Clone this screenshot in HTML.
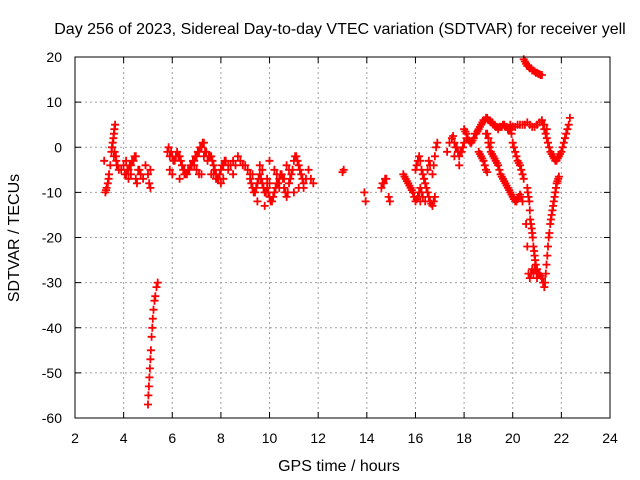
<!DOCTYPE html>
<html><head><meta charset="utf-8"><style>
body{margin:0;background:#fff}
svg{display:block;font-family:"Liberation Sans",sans-serif}
</style></head><body>
<svg id="chart" width="640" height="480" viewBox="0 0 640 480" xmlns="http://www.w3.org/2000/svg">
<rect width="640" height="480" fill="#fff"/>
<text x="340" y="34" font-size="16" text-anchor="middle">Day 256 of 2023, Sidereal Day-to-day VTEC variation (SDTVAR) for receiver yell</text>
<g id="grid"></g><g id="ticks"></g><g id="marks"></g>
<rect x="75" y="57" width="535" height="361" fill="none" stroke="#000" stroke-width="1"/>
<text x="339" y="471" font-size="16" text-anchor="middle">GPS time / hours</text>
<text transform="translate(19,238) rotate(-90)" font-size="16" text-anchor="middle">SDTVAR / TECUs</text>
</svg>
<script>
const xTicks=[2,4,6,8,10,12,14,16,18,20,22,24];
const yTicks=[20,10,0,-10,-20,-30,-40,-50,-60];
const times=[
3.2,3.25,3.28,3.3,3.35,3.38,3.4,3.45,3.5,3.52,3.55,3.58,3.6,3.62,3.65,3.6,3.63,3.7,3.75,3.8,3.68,3.72,
3.9,4.0,4.05,4.1,4.15,4.2,4.25,4.3,4.35,4.4,4.45,4.5,4.5,4.6,4.3,4.7,4.8,4.9,5.0,5.05,5.1,4.2,4.1,4.55,4.65,5.1,
5.0,5.02,5.04,5.06,5.08,5.1,5.12,5.15,5.18,5.2,5.23,5.27,5.3,5.35,5.4,
5.8,5.85,5.9,5.95,6.0,6.05,6.1,6.15,6.2,6.25,6.3,6.35,6.4,6.45,6.5,6.55,6.6,6.65,6.7,6.75,6.8,6.85,6.9,6.95,7.0,7.05,7.1,7.15,7.2,7.25,7.3,5.9,6.0,6.3,6.5,7.3,7.35,7.4,7.45,7.5,7.55,7.6,7.65,7.7,7.75,7.8,7.85,7.9,7.95,8.0,8.05,8.1,8.15,8.2,8.3,8.4,8.5,8.6,8.7,8.8,8.9,9.0,9.1,9.2,7.6,7.7,7.8,7.9,8.0,8.1,8.3,8.5,7.2,7.0,6.9,7.1,
9.2,9.25,9.3,9.35,9.4,9.45,9.5,9.55,9.6,9.65,9.7,9.75,9.8,9.85,9.9,9.95,10.0,10.05,10.1,10.15,10.2,10.25,10.3,10.35,10.4,10.45,10.5,10.55,10.6,10.65,10.7,10.75,10.8,10.85,10.9,10.95,11.0,11.05,11.1,11.15,11.2,11.25,11.3,11.35,11.4,11.5,11.6,11.7,11.8,9.5,9.8,10.0,10.2,10.4,10.6,10.8,11.0,11.2,11.4,9.3,9.6,10.0,9.7,9.9,10.3,10.7,
13.0,13.05,13.9,13.95,14.6,14.65,14.7,14.75,14.8,14.9,14.95,
15.5,15.55,15.6,15.65,15.7,15.75,15.8,15.85,15.9,15.95,16.0,16.05,16.1,16.15,16.2,16.0,16.05,16.1,16.15,16.2,16.25,16.3,16.35,16.4,16.45,16.5,16.55,16.6,16.65,16.7,16.75,16.8,16.7,16.75,16.8,16.85,16.9,16.6,16.55,16.5,16.4,16.3,16.2,16.25,
17.3,17.4,17.5,17.55,17.6,17.65,17.7,17.75,17.8,17.85,17.9,17.95,18.0,18.1,17.6,17.8,
18.0,18.05,18.1,18.15,18.2,18.25,18.3,18.35,18.4,18.45,18.5,18.55,18.6,18.65,18.7,18.75,18.8,18.85,18.9,18.95,19.0,19.05,19.1,19.15,19.2,19.25,19.3,19.35,19.4,19.45,19.5,19.55,19.6,19.65,19.7,19.75,19.8,19.85,19.9,19.95,20.0,20.1,20.2,20.3,20.4,20.5,20.6,20.7,20.8,20.9,21.0,21.1,21.2,21.3,21.4,18.9,19.0,19.1,19.2,
18.6,18.65,18.7,18.75,18.8,18.85,18.9,18.95,
18.95,19.0,19.05,19.1,19.15,19.2,19.25,19.3,19.35,19.4,19.45,19.5,19.55,19.6,19.65,19.7,19.75,19.8,19.85,19.9,19.95,20.0,20.05,20.1,20.15,20.2,20.25,20.3,20.35,20.4,
19.9,19.95,20.0,20.05,20.1,20.15,20.2,20.25,20.3,20.35,20.4,20.45,
21.25,21.3,21.35,21.4,21.45,21.5,21.55,21.6,21.65,21.7,21.75,21.8,21.85,21.9,21.95,22.0,22.05,22.1,22.15,22.2,22.25,22.3,22.35,
20.45,20.5,20.55,20.6,20.65,20.7,20.75,20.8,20.85,20.9,20.95,21.0,21.05,21.1,21.15,21.2,
20.6,20.62,20.65,20.68,20.7,20.72,20.75,20.78,20.8,20.82,20.85,20.88,20.9,20.92,20.95,20.98,21.0,20.55,20.6,
20.65,20.7,20.75,20.8,20.85,20.9,20.95,21.0,21.05,21.1,21.15,21.2,21.25,
21.3,21.33,21.36,21.39,21.42,21.45,21.48,21.51,21.54,21.57,21.6,21.63,21.66,21.69,21.72,21.75,21.78,21.81,21.84,21.87,21.9
];
const vtec=[
-3,-10,-9.5,-9,-8,-7,-6,-4,-1,0,1,2,3,4,5,-2,-1,-3,-4,-5,-2,-4,
-5,-4,-6,-6,-5,-5,-4,-4,-3,-3,-2,-2,-7,-5,-6,-6,-7,-4,-6,-8,-9,-7,-3,-8,-5,-5,
-57,-55,-53,-51,-49,-47,-45,-42,-40,-38,-36,-34,-33,-31,-30,
-1,0,-2,-1,-2,-3,-3,-2,-1,-2,-2,-3,-4,-5,-5,-6,-6,-5,-5,-4,-4,-3,-3,-2,-2,-1,-1,0,0,1,1,-5,-6,-7,-6,-2,-1,-1,-3,-2,-2,-2,-3,-4,-5,-6,-7,-7,-6,-5,-4,-4,-3,-3,-4,-4,-3,-4,-2,-3,-4,-4,-5,-6,-6,-6,-7,-7,-8,-7,-5,-6,-6,-5,-4,-6,
-7,-8,-9,-10,-10,-9,-8,-7,-6,-7,-8,-9,-10,-10,-9,-10,-11,-12,-12,-11,-10,-9,-8,-8,-7,-6,-6,-7,-9,-10,-11,-10,-8,-7,-6,-5,-3,-2,-2,-3,-4,-5,-6,-7,-8,-7,-5,-7,-8,-12,-13,-8,-5,-9,-7,-5,-10,-9,-9,-6,-4,-3,-5,-7,-6,-4,
-5.5,-5,-10,-12,-9,-8,-8,-7,-7,-11,-12,
-6,-6.5,-7,-7.5,-8,-8.5,-9,-9.5,-10,-11,-12,-11.5,-11,-10,-9,-5,-4,-3,-2,-3,-5,-6,-7,-8,-9,-10,-11,-12,-12.5,-13,-12,-11,-6,-4,-2,0,1,-4,-3,-5,-12,-11,-12,-10,
-1,1,2,2.5,1,0,0,-1,-2,-1,-1,0,1,2,-2,-4,
4,3.5,3,2,1.5,1,1,1.5,2,3,3,3.5,4,4.5,5,5.5,6,6,6.5,6.5,6,6,5.5,5.5,5,5,4.5,4.5,4,4.5,4.5,4.5,5,5,4.5,4.5,4,4,4,4,4.5,4.5,5,5,5,5,5.5,5,4.5,4.5,5,5.5,6,5,4,3,2,1,5,
-1,-1.5,-2,-2.5,-3,-4,-5,-5.5,
3,1,0,-1,-1.5,-2,-2.5,-3,-3.5,-4,-5,-6,-6.5,-7,-7.5,-8,-8.5,-9,-9.5,-10,-10.5,-11,-11.5,-12,-12,-11.5,-11,-10.5,-11,-12,
5,3,1,0,-1,-2,-3,-3.5,-4,-5,-6,-7,
5,4,3,2,1,0,-1,-1.5,-2,-2.5,-3,-3,-2.5,-2,-1.5,-1,0,1,2,3,4,5,6.5,
19.5,19,18.5,18,18,17.5,17.5,17,17,16.8,16.5,16.5,16.3,16.2,16,16,
-9,-10,-11,-12,-14,-16,-17,-18,-19,-20,-22,-23,-24,-25,-27,-28,-29,-17,-22,
-28,-29,-28,-27,-28,-27,-26,-27,-28,-28,-28.5,-29,-30,
-31,-30,-28,-26,-24,-22,-20,-19,-17,-16,-15,-14,-13,-12,-11,-10,-9,-8,-7.5,-7,-6.5
];
const NS="http://www.w3.org/2000/svg";
const X0=75,X1=610,Y0=57,Y1=418;
function xs(t){return X0+(t-2)/22*(X1-X0);}
function ys(v){return Y0+(20-v)/80*(Y1-Y0);}
const grid=document.getElementById('grid'),ticks=document.getElementById('ticks'),marks=document.getElementById('marks');
function el(tag,attrs,parent){const e=document.createElementNS(NS,tag);for(const k in attrs)e.setAttribute(k,attrs[k]);parent.appendChild(e);return e;}
xTicks.forEach(t=>{
  const x=xs(t);
  if(t>2&&t<24){const g=el('line',{x1:x,x2:x,y1:Y0,y2:Y1,stroke:'#a0a0a0','stroke-dasharray':'2,3'},grid);
  
  }
  el('line',{x1:x,x2:x,y1:Y1,y2:Y1-6,stroke:'#000'},ticks);
  el('line',{x1:x,x2:x,y1:Y0,y2:Y0+6,stroke:'#000'},ticks);
  const tx=el('text',{x:x,y:443,'font-size':14,'text-anchor':'middle'},ticks);
  tx.textContent=t;
  
  
});
yTicks.forEach(v=>{
  const y=ys(v);
  if(v<20&&v>-60){const g=el('line',{x1:X0,x2:X1,y1:y,y2:y,stroke:'#a0a0a0','stroke-dasharray':'2,3'},grid);
  
  }
  el('line',{x1:X0,x2:X0+6,y1:y,y2:y,stroke:'#000'},ticks);
  el('line',{x1:X1,x2:X1-6,y1:y,y2:y,stroke:'#000'},ticks);
  const tx=el('text',{x:62,y:y+5,'font-size':14,'text-anchor':'end'},ticks);
  tx.textContent=v;
  
  
});
let d='';
for(let i=0;i<times.length;i++){
  const x=xs(times[i]),y=ys(vtec[i]);
  d+=`M${(x-4).toFixed(1)} ${y.toFixed(1)}h8M${x.toFixed(1)} ${(y-4).toFixed(1)}v8`;
}
const p=el('path',{d:d,stroke:'#ff0000','stroke-width':1.8,fill:'none'},marks);


</script>
</body></html>
